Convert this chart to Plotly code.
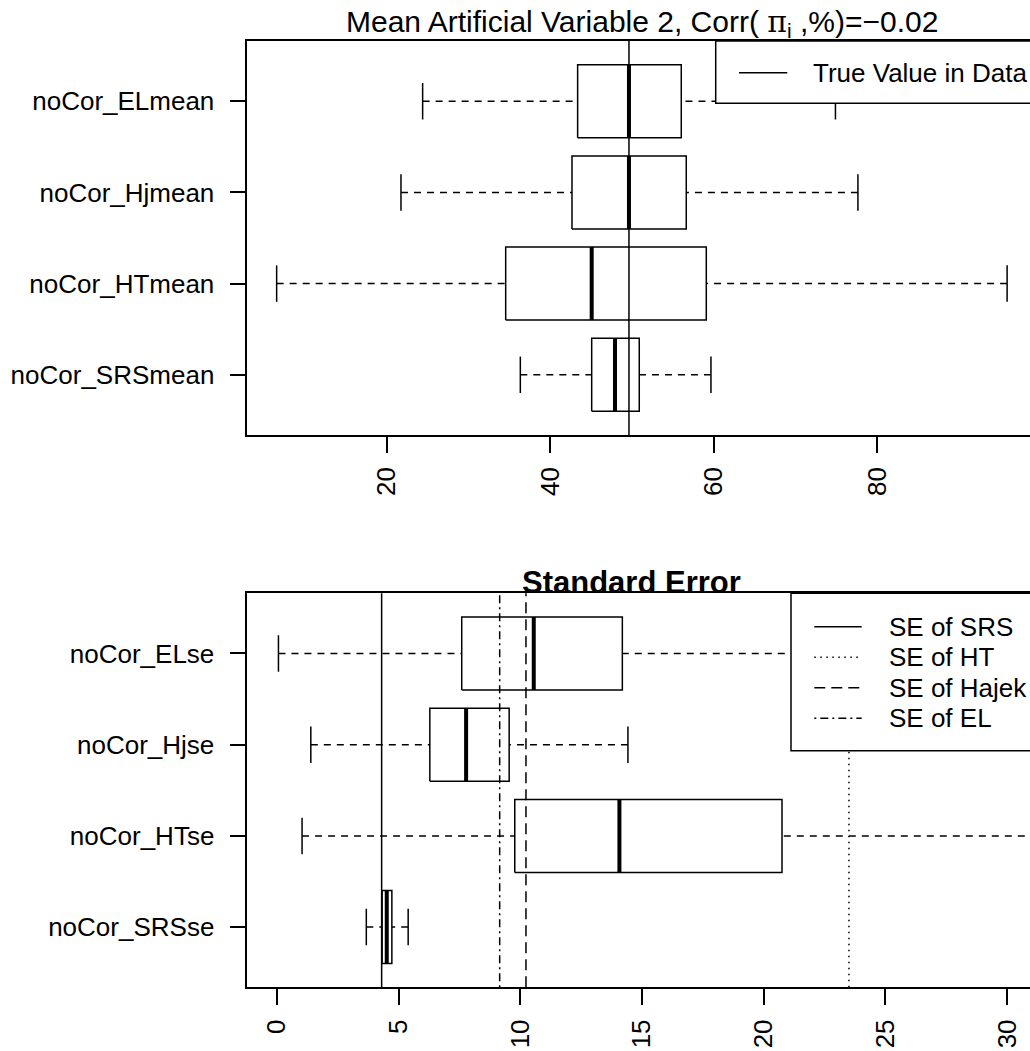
import plotly.graph_objects as go

# ---------------- data ----------------
# top panel (means); order bottom -> top
mean_labels = ["noCor_SRSmean", "noCor_HTmean", "noCor_Hjmean", "noCor_ELmean"]
mean_low = [36.35, 6.54, 21.75, 24.4]
mean_q1 = [45.08, 34.56, 42.67, 43.36]
mean_med = [47.93, 45.08, 49.64, 49.64]
mean_q3 = [50.9, 59.1, 56.65, 56.04]
mean_high = [59.67, 95.9, 77.65, 74.9]
true_value = 49.64
mean_ticks = [20, 40, 60, 80]

# bottom panel (standard errors)
se_labels = ["noCor_SRSse", "noCor_HTse", "noCor_Hjse", "noCor_ELse"]
se_low = [3.67, 1.03, 1.39, 0.06]
se_q1 = [4.32, 9.77, 6.28, 7.59]
se_med = [4.51, 14.07, 7.77, 10.55]
se_q3 = [4.72, 20.75, 9.54, 14.19]
se_high = [5.39, 35.0, 14.42, 23.0]
se_ref_names = ["SE of SRS", "SE of HT", "SE of Hajek", "SE of EL"]
se_ref_values = [4.30, 23.5, 10.23, 9.15]
se_ticks = [0, 5, 10, 15, 20, 25, 30]

# ---------------- styling ----------------
W, H = 1030, 1051
FONT = "Liberation Sans, Arial, Helvetica, sans-serif"
LW = 1.5
WHISK_DASH = "7px,6px"
REF_DASH = {"SE of SRS": "solid", "SE of HT": "1.5px,4.5px",
            "SE of Hajek": "11px,6px", "SE of EL": "2px,4px,8px,4px"}

def px(x):
    return x / W

def py(y):
    return 1 - y / H

fig = go.Figure()

def add_boxes(xa, ya, low, q1, med, q3, high):
    bx, by, mx, my, wx, wy, cx, cy = [], [], [], [], [], [], [], []
    for i in range(len(low)):
        c = i + 1
        bx += [q1[i], q3[i], q3[i], q1[i], q1[i], None]
        by += [c - 0.4, c - 0.4, c + 0.4, c + 0.4, c - 0.4, None]
        mx += [med[i], med[i], None]
        my += [c - 0.4, c + 0.4, None]
        wx += [low[i], q1[i], None, high[i], q3[i], None]
        wy += [c, c, None, c, c, None]
        cx += [low[i], low[i], None, high[i], high[i], None]
        cy += [c - 0.2, c + 0.2, None, c - 0.2, c + 0.2, None]
    common = dict(xaxis=xa, yaxis=ya, mode="lines", showlegend=False, hoverinfo="skip")
    fig.add_trace(go.Scatter(x=wx, y=wy, line=dict(color="black", width=LW, dash=WHISK_DASH), **common))
    fig.add_trace(go.Scatter(x=cx, y=cy, line=dict(color="black", width=LW), **common))
    fig.add_trace(go.Scatter(x=bx, y=by, line=dict(color="black", width=LW), **common))
    fig.add_trace(go.Scatter(x=mx, y=my, line=dict(color="black", width=4), **common))

add_boxes("x", "y", mean_low, mean_q1, mean_med, mean_q3, mean_high)
add_boxes("x2", "y2", se_low, se_q1, se_med, se_q3, se_high)

# reference lines
shapes = []
shapes.append(dict(type="line", xref="x", yref="y domain", x0=true_value, x1=true_value,
                   y0=0, y1=1, line=dict(color="black", width=LW), layer="above"))
for name, v in zip(se_ref_names, se_ref_values):
    shapes.append(dict(type="line", xref="x2", yref="y2 domain", x0=v, x1=v, y0=0, y1=1,
                       line=dict(color="black", width=LW, dash=REF_DASH[name]), layer="above"))

# legends (manual, R style)
shapes.append(dict(type="rect", xref="paper", yref="paper", x0=px(715.7), x1=px(1045),
                   y0=py(103.3), y1=py(41), fillcolor="white",
                   line=dict(color="black", width=LW), layer="above"))
shapes.append(dict(type="line", xref="paper", yref="paper", x0=px(739), x1=px(787.3),
                   y0=py(72.7), y1=py(72.7), line=dict(color="black", width=LW), layer="above"))
shapes.append(dict(type="rect", xref="paper", yref="paper", x0=px(791), x1=px(1045),
                   y0=py(750.7), y1=py(593.3), fillcolor="white",
                   line=dict(color="black", width=LW), layer="above"))
annotations = []
annotations.append(dict(text="True Value in Data", xref="paper", yref="paper", x=px(811), y=py(72.7),
                        xanchor="left", yanchor="middle", showarrow=False,
                        font=dict(family=FONT, size=26, color="black")))
for k, name in enumerate(se_ref_names):
    yy = 626.7 + 30.5 * k
    shapes.append(dict(type="line", xref="paper", yref="paper", x0=px(814.3), x1=px(861.7),
                       y0=py(yy), y1=py(yy),
                       line=dict(color="black", width=LW, dash=REF_DASH[name]), layer="above"))
    annotations.append(dict(text=name, xref="paper", yref="paper", x=px(886.7), y=py(yy),
                            xanchor="left", yanchor="middle", showarrow=False,
                            font=dict(family=FONT, size=26, color="black")))

# titles
annotations.append(dict(text="Mean Artificial Variable 2, Corr( <span style='font-family:DejaVu Serif'>π</span><sub>i</sub> ,%)=−0.02",
                        xref="paper", yref="paper", x=px(642), y=py(23),
                        xanchor="center", yanchor="middle", showarrow=False,
                        font=dict(family=FONT, size=30, color="black")))
annotations.append(dict(text="<b>Standard Error</b>", xref="paper", yref="paper", x=px(631), y=py(582),
                        xanchor="center", yanchor="middle", showarrow=False,
                        font=dict(family=FONT, size=31, color="black")))

xdom = [px(247.3), 1.0]
axis_common = dict(showgrid=False, zeroline=False, showline=True, linecolor="black", linewidth=LW,
                   ticks="outside", ticklen=16, tickwidth=LW, tickcolor="black",
                   tickfont=dict(family=FONT, size=26, color="black"), automargin=False)

fig.update_layout(
    width=W, height=H, margin=dict(l=0, r=0, t=0, b=0),
    paper_bgcolor="white", plot_bgcolor="white", showlegend=False,
    xaxis=dict(domain=xdom, range=[2.95, 98.7], tickvals=mean_ticks, tickangle=-90,
               mirror=True, anchor="y", ticklabelstandoff=4, **axis_common),
    yaxis=dict(domain=[py(435), py(41)], range=[0.34, 4.66], tickvals=[1, 2, 3, 4],
               ticktext=mean_labels, anchor="x", ticklabelstandoff=10, **axis_common),
    xaxis2=dict(domain=xdom, range=[-1.22, 30.94], tickvals=se_ticks, tickangle=-90,
                mirror=True, anchor="y2", ticklabelstandoff=4, **axis_common),
    yaxis2=dict(domain=[py(987.3), py(593.3)], range=[0.34, 4.66], tickvals=[1, 2, 3, 4],
                ticktext=se_labels, anchor="x2", ticklabelstandoff=10, **axis_common),
    shapes=shapes, annotations=annotations,
)

fig.write_html("out.html")
